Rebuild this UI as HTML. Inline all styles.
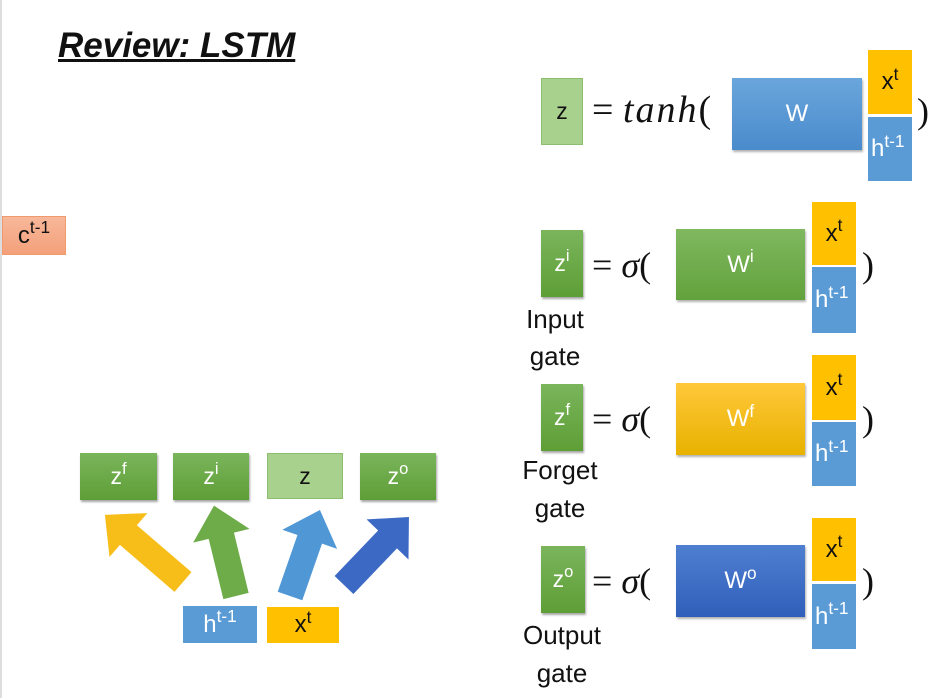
<!DOCTYPE html>
<html><head><meta charset="utf-8"><style>
body{margin:0;width:948px;height:698px;background:#fff;position:relative;overflow:hidden;font-family:"Liberation Sans",sans-serif;}
.b{position:absolute;display:flex;align-items:center;justify-content:center;font-size:23px;box-sizing:border-box;}
.g{background:linear-gradient(#7ab55c,#5e9e36);color:#fff;box-shadow:1px 2px 2px rgba(0,0,0,.35);}
.lg{background:#a9d18e;border:1px solid #8dbd6e;color:#111;}
.y{background:#ffc000;color:#111;}
.bl{background:#5b9bd5;color:#fff;}
.t{position:absolute;font-size:26px;color:#111;text-align:center;width:90px;}
.eq{position:absolute;font-family:"Liberation Serif",serif;font-size:36px;color:#111;}
sup{font-size:0.72em;vertical-align:baseline;position:relative;top:-0.45em;line-height:1;}
</style></head><body>
<div style="position:absolute;left:0;top:0;width:2px;height:698px;background:#ddd"></div>
<div style="position:absolute;left:58px;top:26px;font-size:35px;font-weight:bold;font-style:italic;text-decoration:underline;color:#111">Review: LSTM</div>
<div class="b" style="left:2px;top:216px;width:64px;height:39px;background:linear-gradient(#f7b89a,#f4a07a);border:1px solid #f09a70;color:#111;font-size:24px">c<sup>t-1</sup></div>

<svg style="position:absolute;left:0;top:0" width="948" height="698">
<g transform="translate(183,582) rotate(-139.3)"><polygon points="0,-13 72,-13 72,-29 103,0 72,29 72,13 0,13" fill="#f7bd18"/></g>
<g transform="translate(236,596) rotate(-103.7)"><polygon points="0,-13 62,-13 62,-29 93,0 62,29 62,13 0,13" fill="#6dac48"/></g>
<g transform="translate(290,596) rotate(-70.8)"><polygon points="0,-13 60,-13 60,-29 91,0 60,29 60,13 0,13" fill="#5097d6"/></g>
<g transform="translate(344,585) rotate(-46.3)"><polygon points="0,-13 63,-13 63,-29 94,0 63,29 63,13 0,13" fill="#3c69c4"/></g>
</svg>

<div class="b g" style="left:80px;top:453px;width:77px;height:47px">z<sup>f</sup></div>
<div class="b g" style="left:173px;top:453px;width:76px;height:47px">z<sup>i</sup></div>
<div class="b lg" style="left:267px;top:453px;width:76px;height:46px">z</div>
<div class="b g" style="left:360px;top:453px;width:76px;height:47px">z<sup>o</sup></div>
<div class="b bl" style="left:183px;top:606px;width:74px;height:37px;font-size:24px">h<sup>t-1</sup></div>
<div class="b y" style="left:267px;top:607px;width:72px;height:36px;font-size:24px">x<sup>t</sup></div>

<div class="b lg" style="left:541px;top:78px;width:42px;height:67px">z</div>
<div class="eq" style="left:592px;top:88px;font-size:38px"><span style="font-style:normal">=</span> <i style="letter-spacing:2px">tanh</i>(</div>
<div class="b" style="left:732px;top:78px;width:130px;height:72px;background:linear-gradient(#6aa6dc,#4a8bcc);color:#fff;box-shadow:1px 2px 2px rgba(0,0,0,.3);font-size:24px">W</div>
<div class="b y" style="left:868px;top:50px;width:44px;height:64px;font-size:24px">x<sup>t</sup></div>
<div class="b bl" style="left:868px;top:117px;width:44px;height:64px;font-size:24px;justify-content:flex-start;padding-left:3px">h<sup>t-1</sup></div>
<div class="eq" style="left:917px;top:90px">)</div>

<div class="b g" style="left:541px;top:230px;width:42px;height:67px">z<sup>i</sup></div>
<div class="eq" style="left:592px;top:244px">= <i>σ</i>(</div>
<div class="b" style="left:676px;top:229px;width:129px;height:71px;background:linear-gradient(#80b860,#62a23c);color:#fff;box-shadow:1px 2px 2px rgba(0,0,0,.3);font-size:24px">W<sup>i</sup></div>
<div class="b y" style="left:812px;top:202px;width:44px;height:63px;font-size:24px">x<sup>t</sup></div>
<div class="b bl" style="left:812px;top:267px;width:44px;height:66px;font-size:24px;justify-content:flex-start;padding-left:3px">h<sup>t-1</sup></div>
<div class="eq" style="left:862px;top:244px">)</div>
<div class="t" style="left:510px;top:304px">Input</div>
<div class="t" style="left:510px;top:341px">gate</div>

<div class="b g" style="left:541px;top:384px;width:42px;height:67px">z<sup>f</sup></div>
<div class="eq" style="left:592px;top:398px">= <i>σ</i>(</div>
<div class="b" style="left:676px;top:383px;width:129px;height:72px;background:linear-gradient(#ffc83a,#e8b200);color:#fff;box-shadow:1px 2px 2px rgba(0,0,0,.3);font-size:24px">W<sup>f</sup></div>
<div class="b y" style="left:812px;top:355px;width:44px;height:65px;font-size:24px">x<sup>t</sup></div>
<div class="b bl" style="left:812px;top:422px;width:44px;height:64px;font-size:24px;justify-content:flex-start;padding-left:3px">h<sup>t-1</sup></div>
<div class="eq" style="left:862px;top:398px">)</div>
<div class="t" style="left:515px;top:455px">Forget</div>
<div class="t" style="left:515px;top:493px">gate</div>

<div class="b g" style="left:541px;top:546px;width:44px;height:67px">z<sup>o</sup></div>
<div class="eq" style="left:592px;top:560px">= <i>σ</i>(</div>
<div class="b" style="left:676px;top:545px;width:129px;height:72px;background:linear-gradient(#4f7fd0,#305fbb);color:#fff;box-shadow:1px 2px 2px rgba(0,0,0,.3);font-size:24px">W<sup>o</sup></div>
<div class="b y" style="left:812px;top:518px;width:44px;height:63px;font-size:24px">x<sup>t</sup></div>
<div class="b bl" style="left:812px;top:584px;width:44px;height:65px;font-size:24px;justify-content:flex-start;padding-left:3px">h<sup>t-1</sup></div>
<div class="eq" style="left:862px;top:560px">)</div>
<div class="t" style="left:517px;top:620px">Output</div>
<div class="t" style="left:517px;top:658px">gate</div>
</body></html>
